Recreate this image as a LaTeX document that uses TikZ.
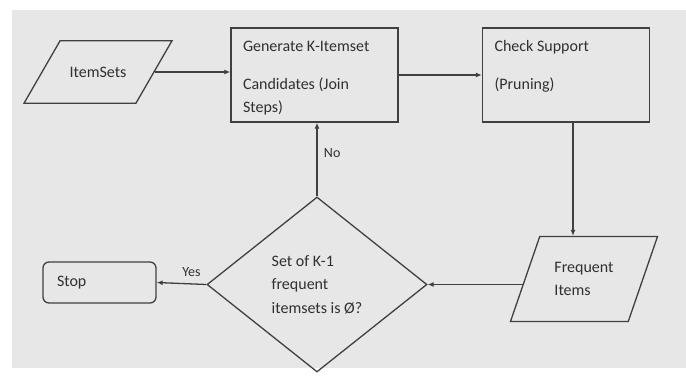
\documentclass[tikz,border=0pt]{standalone}
\usepackage{fontspec}
\setmainfont{Carlito}
\usepackage{tikz}
\usetikzlibrary{shapes.geometric}
\usetikzlibrary{arrows.meta}
\definecolor{bggray}{HTML}{E7E7E7}
\definecolor{linegray}{HTML}{404040}
\definecolor{txtgray}{HTML}{303030}
\newcommand{\boxlines}[1]{\parbox[c][80pt][t]{143pt}{\strut#1}}

\begin{document}
\begin{tikzpicture}[x=1pt, y=-1pt,
    every node/.style={font=\fontsize{16}{23.5}\selectfont, text=txtgray, align=left},
    procbox/.style={draw=linegray, line width=1.3pt, rectangle, inner xsep=12pt, inner ysep=7pt},
    iobox/.style={draw=linegray, line width=1.3pt, trapezium, trapezium stretches body, inner xsep=0pt},
    decision/.style={draw=linegray, line width=1.3pt, diamond, aspect=1.257, inner sep=0pt},
    endbox/.style={draw=linegray, line width=1.3pt, rectangle, rounded corners=6pt},
    flow/.style={draw=linegray, line width=1.3pt, -{Latex[length=6pt, width=5pt]}},
    lbl/.style={font=\fontsize{14}{16}\selectfont}]
    \useasboundingbox (0,0) rectangle (686,378);
    \fill[bggray] (12,10) rectangle (686,368);

    \node(in) [iobox, trapezium left angle=60, trapezium right angle=120, minimum width=148pt, inner ysep=26pt] at (98, 72) {ItemSets};
    \node(gen) [procbox] at (314.5, 75) {\boxlines{Generate K-Itemset\\[14.5pt]Candidates (Join\\Steps)}};
    \node(chk) [procbox] at (566, 75) {\boxlines{Check Support\\[14.5pt](Pruning)}};
    \node(freq) [iobox, trapezium left angle=71, trapezium right angle=109, minimum width=147pt, inner ysep=25.5pt] at (584, 279) {Frequent\\Items};
    \node(dec) [decision, minimum width=220pt, minimum height=175pt] at (317, 284.5) {Set of K-1\\frequent\\itemsets is Ø?};
    \node(stop) [endbox, minimum width=113pt, minimum height=41pt, text width=85pt, inner xsep=14pt] at (99.5, 282.5) {Stop};

    \draw[flow] (in.east) -- (in.east -| gen.west);
    \draw[flow] (gen.east) -- (chk.west);
    \draw[flow] ([xshift=7pt]chk.south) -- ([xshift=7pt]chk.south |- freq.north);
    \draw[flow] (freq.west |- dec.east) -- (dec.east);
    \draw[flow] (dec.north) -- (dec.north |- gen.south) node [lbl, pos=0.59, right=3pt] {No};
    \draw[flow] (dec.west) -- (stop.east) node [lbl, pos=0.3, above=3pt] {Yes};
  \end{tikzpicture}
\end{document}
